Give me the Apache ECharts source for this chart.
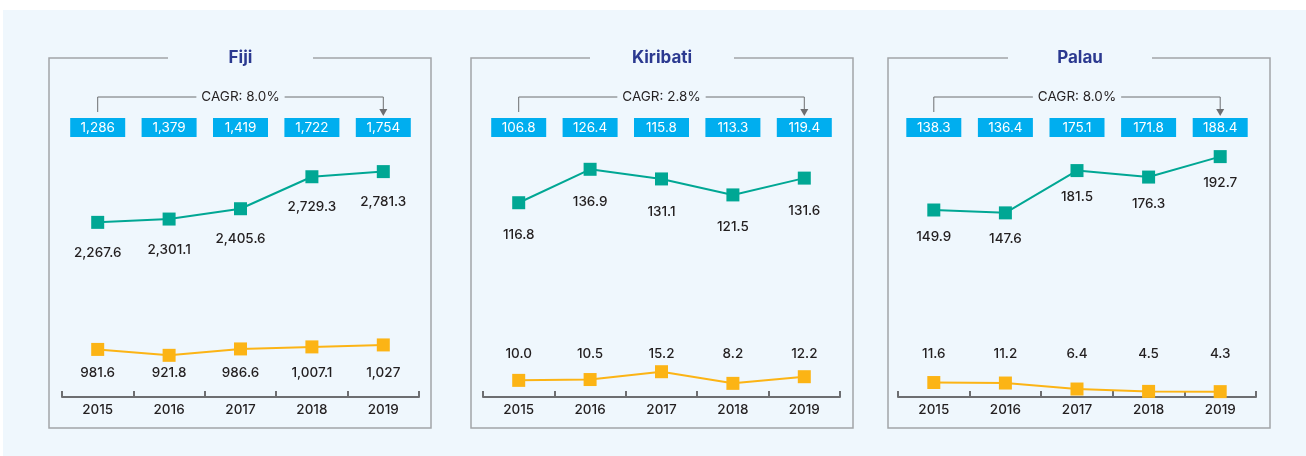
<!DOCTYPE html>
<html><head><meta charset="utf-8">
<script src="https://cdn.jsdelivr.net/npm/echarts@6/dist/echarts.min.js"></script>
<style>
html,body{margin:0;padding:0;background:#fff;}
#wrap{position:relative;width:1306px;height:456px;overflow:hidden;}
#bg{position:absolute;left:3px;top:10px;width:1303px;height:446px;background:#eff7fd;}
#c{position:absolute;left:0;top:0;width:1306px;height:456px;}
</style>
</head><body><div id="wrap"><div id="bg"></div><div id="c"></div></div>
<script>
// ---- data ----
const years = ['2015', '2016', '2017', '2018', '2019'];
const countries = ['Fiji', 'Kiribati', 'Palau'];
const cagr = ['8.0%', '2.8%', '8.0%'];
const fijiBlue = [1286, 1379, 1419, 1722, 1754];
const kiribatiBlue = [106.8, 126.4, 115.8, 113.3, 119.4];
const palauBlue = [138.3, 136.4, 175.1, 171.8, 188.4];
const fijiTeal = [2267.6, 2301.1, 2405.6, 2729.3, 2781.3];
const kiribatiTeal = [116.8, 136.9, 131.1, 121.5, 131.6];
const palauTeal = [149.9, 147.6, 181.5, 176.3, 192.7];
const fijiYellow = [981.6, 921.8, 986.6, 1007.1, 1027];
const kiribatiYellow = [10.0, 10.5, 15.2, 8.2, 12.2];
const palauYellow = [11.6, 11.2, 6.4, 4.5, 4.3];

const panelsData = [
  {name: countries[0], cagr: cagr[0], blue: fijiBlue, teal: fijiTeal, yellow: fijiYellow},
  {name: countries[1], cagr: cagr[1], blue: kiribatiBlue, teal: kiribatiTeal, yellow: kiribatiYellow},
  {name: countries[2], cagr: cagr[2], blue: palauBlue, teal: palauTeal, yellow: palauYellow}
];

// ---- layout / style ----
const FONT = 'Inter, "Noto Sans", sans-serif';
const TEAL = '#00a794';
const YELLOW = '#fcb415';
const AXIS = '#6d6e71';
const BORDER = '#a3a5a8';
const TEXT = '#231f20';
const BG = '#eff7fd';
const GRID_TOP = 150, GRID_BOTTOM = 397;
const BOX_TOP = 58, BOX_BOTTOM = 428;
const CAGR_Y = 97;
const layout = [
  {boxL: 49, boxR: 431, gapL: 168, gapR: 313, gridL: 62, gridW: 357, yMin: 500, yMax: 3000, minFrac: 0, tealDist: 17, yellowRow: 373},
  {boxL: 471, boxR: 853, gapL: 590, gapR: 734, gridL: 483, gridW: 357, yMin: 0, yMax: 148.5, minFrac: 1, tealDist: 19, yellowRow: 354},
  {boxL: 888, boxR: 1270, gapL: 1008, gapR: 1152, gridL: 898, gridW: 358, yMin: 0, yMax: 198, minFrac: 1, tealDist: 13, yellowRow: 354}
];

function fmt(v, minFrac) {
  return v.toLocaleString('en-US', {minimumFractionDigits: minFrac, maximumFractionDigits: 1});
}

const chart = echarts.init(document.getElementById('c'), null, {renderer: 'canvas'});

const grid = [], xAxis = [], yAxis = [], series = [], title = [];
layout.forEach((L, i) => {
  const P = panelsData[i];
  grid.push({left: L.gridL, top: GRID_TOP, width: L.gridW, height: GRID_BOTTOM - GRID_TOP, containLabel: false});
  xAxis.push({
    type: 'category', gridIndex: i, position: 'bottom', data: years, boundaryGap: true,
    axisLine: {show: true, lineStyle: {color: AXIS, width: 2}},
    axisTick: {show: true, inside: true, length: 6, lineStyle: {color: AXIS, width: 2}},
    axisLabel: {color: TEXT, fontSize: 13.5, fontWeight: 500, fontFamily: FONT, margin: 6, interval: 0},
    splitLine: {show: false}
  });
  xAxis.push({
    type: 'category', gridIndex: i, position: 'top', boundaryGap: true,
    data: P.blue.map(v => fmt(v, L.minFrac)),
    axisLine: {show: false}, axisTick: {show: false}, splitLine: {show: false},
    axisLabel: {
      interval: 0, color: '#ffffff', fontSize: 13.5, fontFamily: FONT,
      backgroundColor: '#00aeef', width: 55, align: 'center',
      padding: [3, 0, 3, 0], lineHeight: 13, margin: 13
    }
  });
  yAxis.push({type: 'value', gridIndex: i, min: L.yMin, max: L.yMax, show: false, splitLine: {show: false}});
  series.push({
    id: 'teal' + i, type: 'line', xAxisIndex: 2 * i, yAxisIndex: i, data: P.teal,
    symbol: 'rect', symbolSize: 13, lineStyle: {color: TEAL, width: 2}, itemStyle: {color: TEAL},
    label: {show: true, position: 'bottom', distance: L.tealDist, color: TEXT, fontSize: 13.5, fontWeight: 500, fontFamily: FONT,
      formatter: p => fmt(p.value, L.minFrac)},
    animation: false
  });
  series.push({
    id: 'yellow' + i, type: 'line', xAxisIndex: 2 * i, yAxisIndex: i, data: P.yellow,
    symbol: 'rect', symbolSize: 13, lineStyle: {color: YELLOW, width: 2}, itemStyle: {color: YELLOW},
    label: {show: true, position: 'inside', color: TEXT, fontSize: 13.5, fontWeight: 500, fontFamily: FONT,
      formatter: p => fmt(p.value, L.minFrac)},
    animation: false
  });
  title.push({
    text: P.name, left: (L.gapL + L.gapR) / 2, top: 49, textAlign: 'center', padding: 0,
    textStyle: {color: '#2b3990', fontSize: 17, fontWeight: 'bold', fontFamily: FONT}
  });
});

chart.setOption({animation: false, title, grid, xAxis, yAxis, series});

// second pass: positions derived from the chart's own scales
const upd = {series: [], graphic: []};
layout.forEach((L, i) => {
  const P = panelsData[i];
  const ydata = P.yellow.map((v, j) => {
    const py = chart.convertToPixel({gridIndex: i}, [j, v])[1];
    return {value: v, label: {offset: [0, L.yellowRow - py]}};
  });
  upd.series.push({id: 'yellow' + i, data: ydata});

  // panel border with a gap for the title
  upd.graphic.push({
    type: 'polyline', silent: true, z: 0,
    shape: {points: [[L.gapL, BOX_TOP], [L.boxL, BOX_TOP], [L.boxL, BOX_BOTTOM], [L.boxR, BOX_BOTTOM], [L.boxR, BOX_TOP], [L.gapR, BOX_TOP]]},
    style: {stroke: BORDER, lineWidth: 1.5, fill: null}
  });

  // CAGR bracket from first to last category
  const x0 = chart.convertToPixel({gridIndex: i}, [0, P.teal[0]])[0];
  const x1 = chart.convertToPixel({gridIndex: i}, [P.teal.length - 1, P.teal[0]])[0];
  upd.graphic.push({
    type: 'polyline', silent: true, z: 1,
    shape: {points: [[x0, 112], [x0, CAGR_Y], [x1, CAGR_Y], [x1, 110]]},
    style: {stroke: AXIS, lineWidth: 1, fill: null}
  });
  upd.graphic.push({
    type: 'polygon', silent: true, z: 1,
    shape: {points: [[x1 - 4, 109], [x1 + 4, 109], [x1, 116]]},
    style: {fill: AXIS}
  });
  upd.graphic.push({
    type: 'text', silent: true, z: 2,
    x: (x0 + x1) / 2, y: CAGR_Y,
    style: {text: 'CAGR: ' + P.cagr, fill: TEXT, fontSize: 13.5, fontFamily: FONT,
      align: 'center', verticalAlign: 'middle', backgroundColor: BG, padding: [0, 5]}
  });
});
chart.setOption(upd);
</script>
</body></html>
